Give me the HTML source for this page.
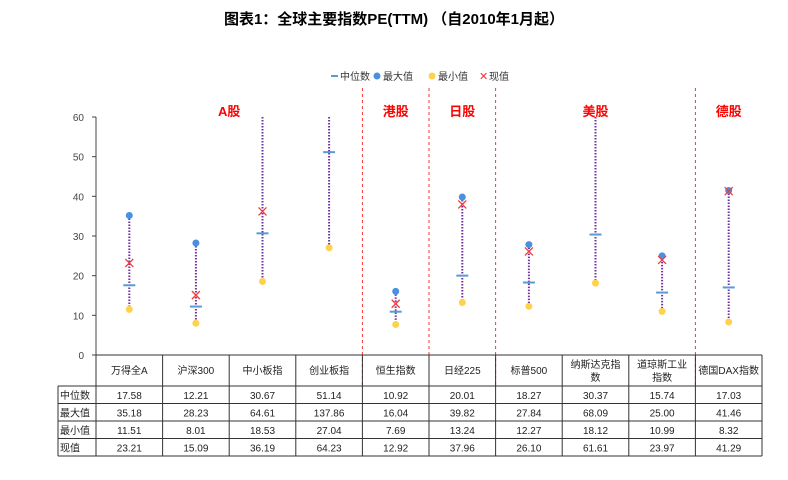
<!DOCTYPE html>
<html><head><meta charset="utf-8">
<style>
body{margin:0;background:#fff;font-family:"Liberation Sans","Noto Sans CJK SC",sans-serif;}
svg text{font-family:"Liberation Sans","Noto Sans CJK SC",sans-serif;}
</style></head>
<body>
<svg width="788" height="475" xmlns="http://www.w3.org/2000/svg">
<text x="394" y="24" text-anchor="middle" font-size="15" font-weight="bold" fill="#000">图表1：全球主要指数PE(TTM) （自2010年1月起）</text>
<g id="legend" font-size="10" fill="#333">
  <g><line x1="331" y1="76" x2="338" y2="76" stroke="#5b9bd5" stroke-width="2"/><text x="340" y="80">中位数</text></g>
  <g><circle cx="377" cy="76" r="3.5" fill="#4a90e2"/><text x="383" y="80">最大值</text></g>
  <g><circle cx="432" cy="76" r="3.5" fill="#ffd24d"/><text x="438" y="80">最小值</text></g>
  <g><text x="479" y="80" fill="#e33" font-size="11">✕</text><text x="489" y="80">现值</text></g>
</g>
<g id="axis"></g>
<g id="marks"></g>
<g id="table"></g>
</svg>
<script>
const categories=["万得全A","沪深300","中小板指","创业板指","恒生指数","日经225","标普500","纳斯达克指数","道琼斯工业指数","德国DAX指数"];
const medianVals=[17.58,12.21,30.67,51.14,10.92,20.01,18.27,30.37,15.74,17.03];
const maxVals=[35.18,28.23,64.61,137.86,16.04,39.82,27.84,68.09,25.00,41.46];
const minVals=[11.51,8.01,18.53,27.04,7.69,13.24,12.27,18.12,10.99,8.32];
const currentVals=[23.21,15.09,36.19,64.23,12.92,37.96,26.10,61.61,23.97,41.29];
const yTicks=[0,10,20,30,40,50,60];
const groups=[{name:"A股",from:0,to:3},{name:"港股",from:4,to:4},{name:"日股",from:5,to:5},{name:"美股",from:6,to:8},{name:"德股",from:9,to:9}];

const NS="http://www.w3.org/2000/svg";
const X0=96,CW=66.6,Y0=355,YT=117,YMAX=60;
const y=v=>Y0-(Math.min(v,YMAX)/YMAX)*(Y0-YT);
const xc=i=>X0+CW*(i+0.5);
function mk(parent,tag,attrs){const e=document.createElementNS(NS,tag);for(const k in attrs)e.setAttribute(k,attrs[k]);parent.appendChild(e);return e;}
const ax=document.getElementById('axis'),mg=document.getElementById('marks'),tb=document.getElementById('table');
mk(ax,'line',{x1:X0,y1:YT,x2:X0,y2:Y0,stroke:'#444','stroke-width':1});
yTicks.forEach(t=>{
  mk(ax,'line',{x1:X0-4,y1:y(t),x2:X0,y2:y(t),stroke:'#444'});
  const tx=mk(ax,'text',{x:X0-12,y:y(t)+4,'text-anchor':'end','font-size':10,fill:'#444'});tx.textContent=t;
  
  
});
groups.forEach((g,gi)=>{
  if(gi>0){const sx=X0+CW*g.from;
    const l=mk(mg,'line',{x1:sx,y1:88,x2:sx,y2:385,stroke:'#f33','stroke-dasharray':'3,3','stroke-width':1});
    
    }
  const cx=(xc(g.from)+xc(g.to))/2;
  const t=mk(mg,'text',{x:cx,y:116,'text-anchor':'middle','font-size':13,'font-weight':'bold',fill:'#f00'});t.textContent=g.name;
  
  
});
categories.forEach((c,i)=>{
  const x=xc(i);
  const rl=mk(mg,'line',{x1:x,y1:y(maxVals[i]),x2:x,y2:y(minVals[i]),stroke:'#7030a0','stroke-width':2,'stroke-dasharray':'1.5,1.5'});
  
  
  if(maxVals[i]<=YMAX){const m=mk(mg,'circle',{cx:x,cy:y(maxVals[i]),r:3.5,fill:'#4a90e2'});
    
    }
  const mn=mk(mg,'circle',{cx:x,cy:y(minVals[i]),r:3.5,fill:'#ffd24d'});
  
  
  const md=mk(mg,'line',{x1:x-6,y1:y(medianVals[i]),x2:x+6,y2:y(medianVals[i]),stroke:'#5b9bd5','stroke-width':2});
  
  
  if(currentVals[i]<=YMAX){const cy=y(currentVals[i]);
    const cg=mk(mg,'path',{d:`M${x-4} ${cy-4}L${x+4} ${cy+4}M${x+4} ${cy-4}L${x-4} ${cy+4}`,stroke:'#f03c3c','stroke-width':1.3,fill:'none'});
    
    }
});
const rowsLbl=["中位数","最大值","最小值","现值"],rowsData=[medianVals,maxVals,minVals,currentVals];
const HT=355,HB=386,RH=17.5,LX=58,RB=HB+RH*4,XR=X0+CW*10;
const ln=(a,b,c,d)=>mk(tb,'line',{x1:a,y1:b,x2:c,y2:d,stroke:'#333','stroke-width':1});
ln(X0,HT,XR,HT);ln(LX,HB,XR,HB);
for(let r=1;r<=4;r++)ln(LX,HB+RH*r,XR,HB+RH*r);
ln(LX,HB,LX,RB);
for(let i=0;i<=10;i++)ln(X0+CW*i,HT,X0+CW*i,RB);
const splitAt={"纳斯达克指数":5,"道琼斯工业指数":5};
categories.forEach((c,i)=>{
  const t=mk(tb,'text',{x:xc(i),y:HT+19,'text-anchor':'middle','font-size':10,fill:'#222'});
  if(splitAt[c]){t.setAttribute('y',HT+13);t.textContent=c.slice(0,splitAt[c]);
    const t2=mk(tb,'text',{x:xc(i),y:HT+26,'text-anchor':'middle','font-size':10,fill:'#222'});t2.textContent=c.slice(splitAt[c]);}
  else t.textContent=c;
  
  
});
rowsLbl.forEach((l,r)=>{
  const cy=HB+RH*r+13;
  const t=mk(tb,'text',{x:LX+2,y:cy,'font-size':10,fill:'#222'});t.textContent=l;
  
  
  rowsData[r].forEach((v,i)=>{
    const c=mk(tb,'text',{x:xc(i),y:cy,'text-anchor':'middle','font-size':10,fill:'#222','font-family':'Liberation Mono, monospace'});c.textContent=v.toFixed(2);
    
    
  });
});
</script>
</body></html>
